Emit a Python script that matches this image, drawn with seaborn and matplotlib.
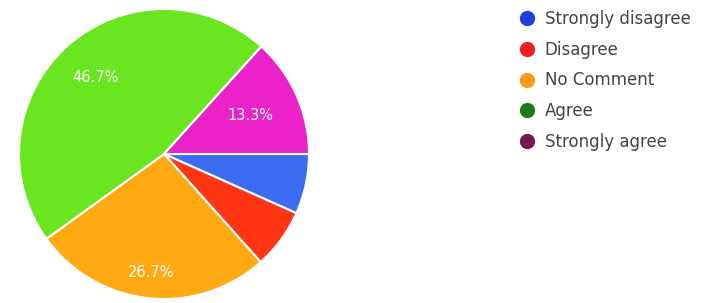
import matplotlib
matplotlib.use("Agg")
import matplotlib.pyplot as plt
from matplotlib.lines import Line2D
import numpy as np
import seaborn as sns

# Données
categories = ["Strongly disagree", "Disagree", "No Comment", "Agree", "Strongly agree"]
shares = [6.7, 6.7, 26.7, 46.7, 13.3]
pie_colors = ["#3b6cf2", "#ff3514", "#ffa912", "#69e61f", "#ea22c8"]
legend_colors = ["#1f3fdc", "#ee1f1f", "#ff9a10", "#1d7a1d", "#761650"]

sns.set_theme(style="white")

fig = plt.figure(figsize=(7.01, 3.03), dpi=100)
W, H = 701, 303
cx, cy, r = 164, 154, 145
ax = fig.add_axes([(cx - r) / W, (H - cy - r) / H, 2 * r / W, 2 * r / H])

wedges, texts, autotexts = ax.pie(
    shares,
    colors=pie_colors,
    startangle=0,
    counterclock=False,
    autopct=lambda p: f"{p:.1f}%" if p > 10 else "",
    pctdistance=0.72,
    wedgeprops=dict(edgecolor="white", linewidth=1.5),
    textprops=dict(color="white", fontsize=10.5),
)
# distance des libellés au centre, un peu différente selon la part
label_dist = {2: 0.82, 3: 0.71, 4: 0.65}
for i, d in label_dist.items():
    w = wedges[i]
    ang = np.deg2rad((w.theta1 + w.theta2) / 2)
    autotexts[i].set_position((d * np.cos(ang), d * np.sin(ang)))

ax.set_aspect("equal")
ax.set_xlim(-1, 1)
ax.set_ylim(-1, 1)
ax.axis("off")

handles = [
    Line2D([0], [0], marker="o", linestyle="", markersize=10,
           markerfacecolor=c, markeredgecolor=c)
    for c in legend_colors
]
fig.legend(
    handles, categories,
    loc="upper left",
    bbox_to_anchor=(504 / W, 1 + 5 / H),
    frameon=False,
    fontsize=12,
    labelcolor="#444444",
    labelspacing=0.76,
    handletextpad=0.55,
    handlelength=1.0,
)

fig.savefig("out.png", dpi=100, facecolor="white")
